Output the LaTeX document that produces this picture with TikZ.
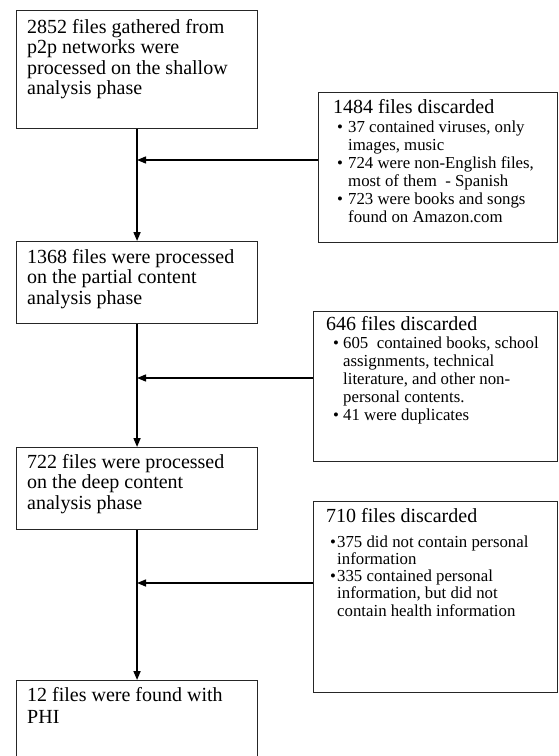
\documentclass[tikz,border=0pt]{standalone}
\usepackage{fontspec}
\setmainfont{Liberation Serif}
\usetikzlibrary{arrows.meta,calc}
\begin{document}
\begin{tikzpicture}[x=1pt,y=-1pt,
  box/.style={draw=black!85, line width=1.1pt, inner sep=0pt, anchor=north west},
  maintext/.style={anchor=north west, inner sep=0pt, align=left, font=\fontsize{20}{20.3}\selectfont},
  headtext/.style={anchor=north west, inner sep=0pt, font=\fontsize{20}{20}\selectfont},
  bultext/.style={anchor=north west, inner sep=0pt, font=\fontsize{16.8}{18}\selectfont},
  flow/.style={line width=1.7pt, -{Triangle[length=9pt,width=7pt]}},
  side/.style={line width=1.5pt, -{Triangle[length=9pt,width=7pt]}}]
\useasboundingbox[fill=white] (0,0) rectangle (558,756);

% left boxes
\node[box, minimum width=241pt, minimum height=118pt] (b1) at (16,10) {};
\node[box, minimum width=241pt, minimum height=82pt] (b2) at (16,241) {};
\node[box, minimum width=241pt, minimum height=82pt] (b3) at (16,447) {};
\node[box, minimum width=241pt, minimum height=82pt] (b4) at (16,680) {};

% right boxes
\node[box, minimum width=239pt, minimum height=150pt] (bA) at (318,92) {};
\node[box, minimum width=244pt, minimum height=150pt] (bB) at (313,311) {};
\node[box, minimum width=244pt, minimum height=191pt] (bC) at (313,501) {};

% texts of left boxes
\node[maintext] (t1) at (27,19.4) {2852 files gathered from\\p2p networks were\\processed on the shallow\\analysis phase};
\node[maintext] (t2) at (27,249.4) {1368 files were processed\\on the partial content\\analysis phase};
\node[maintext] (t3) at (27,454.4) {722 files were processed\\on the deep content\\analysis phase};
\node[maintext, font=\fontsize{20}{21.5}\selectfont] (t4) at (27,687.4) {12 files were found with\\PHI};

% texts of right boxes
\node[headtext] (hA) at (333,99.4) {1484 files discarded};
\node[bultext] (lA) at (337,119.4) {\begin{tabular}{@{}p{11pt}@{}l@{}}
\textbullet & 37 contained viruses, only\\
 & images, music\\
\textbullet & 724 were non-English files,\\
 & most of them \ - Spanish\\
\textbullet & 723 were books and songs\\
 & found on Amazon.com
\end{tabular}};

\node[headtext] (hB) at (326,316.4) {646 files discarded};
\node[bultext] (lB) at (333,335.4) {\begin{tabular}{@{}p{10pt}@{}l@{}}
\textbullet & 605 \ contained books, school\\
 & assignments, technical\\
 & literature, and other non-\\
 & personal contents.\\
\textbullet & 41 were duplicates
\end{tabular}};

\node[headtext] (hC) at (326,508.4) {710 files discarded};
\node[bultext, font=\fontsize{16.8}{17.2}\selectfont] (lC) at (330,535) {\begin{tabular}{@{}p{7pt}@{}l@{}}
\textbullet & 375 did not contain personal\\
 & information\\
\textbullet & 335 contained personal\\
 & information, but did not\\
 & contain health information
\end{tabular}};

% junction points on the main line
\coordinate (jA) at (b1.south |- 0,160);
\coordinate (jB) at (b2.south |- 0,378);
\coordinate (jC) at (b3.south |- 0,583);

% connectors
\draw[flow] (b1.south) -- (b2.north);
\draw[flow] (b2.south) -- (b3.north);
\draw[flow] (b3.south) -- (b4.north);
\draw[side] (bA.west |- jA) -- (jA);
\draw[side] (bB.west |- jB) -- (jB);
\draw[side] (bC.west |- jC) -- (jC);
\end{tikzpicture}
\end{document}
